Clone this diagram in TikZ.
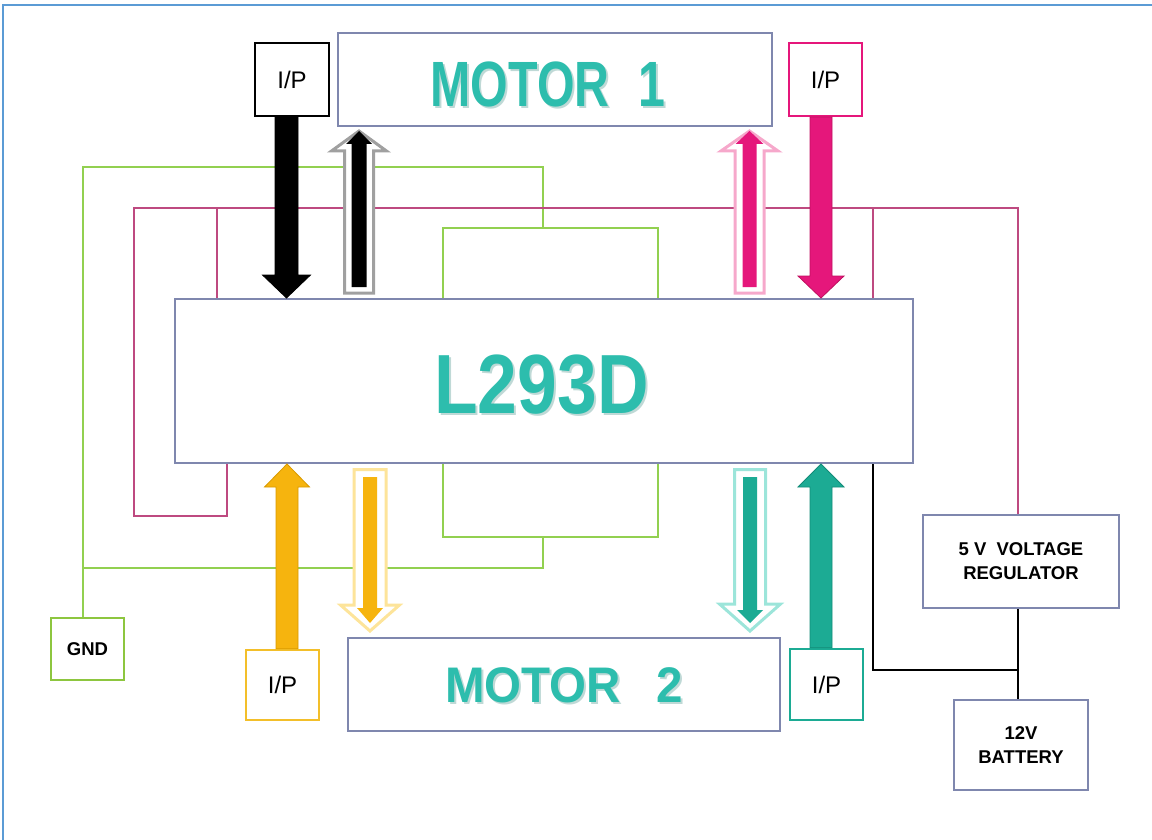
\documentclass[tikz,border=0pt]{standalone}
\usepackage{fontspec}
\setmainfont{Liberation Sans}
\usepackage{graphicx}
\usetikzlibrary{calc}
\definecolor{frameblue}{HTML}{5B9BD5}
\definecolor{boxline}{HTML}{7F87AE}
\definecolor{teal1}{HTML}{2DBDAD}
\definecolor{tealshadow}{HTML}{BFD9D6}
\definecolor{pinkA}{HTML}{E5177B}
\definecolor{pinkD}{HTML}{C0105F}
\definecolor{pinkL}{HTML}{F6A8CB}
\definecolor{orangeA}{HTML}{F6B40E}
\definecolor{orangeD}{HTML}{D99A00}
\definecolor{orangeL}{HTML}{FDE49A}
\definecolor{orangeB}{HTML}{F3BF2A}
\definecolor{tealA}{HTML}{1CAB94}
\definecolor{tealD}{HTML}{138C78}
\definecolor{tealL}{HTML}{9CE5DA}
\definecolor{grayL}{HTML}{A0A0A0}
\definecolor{greenW}{HTML}{92D050}
\definecolor{pinkW}{HTML}{BE4A80}
\definecolor{gndgreen}{HTML}{8DC63F}
\newcommand\varrow[6]{%
  \path[#1] let \p1=#2, \p2=#3, \n1={sign(\y2-\y1)} in
   ({\x1-#4},{\y1}) -- ({\x1-#4},{\y2-(\n1)*#6}) -- ({\x1-#5},{\y2-(\n1)*#6}) -- (\x1,\y2)
   -- ({\x1+#5},{\y2-(\n1)*#6}) -- ({\x1+#4},{\y2-(\n1)*#6}) -- ({\x1+#4},{\y1}) -- cycle;}
\tikzset{
  bigbox/.style={draw=boxline, line width=2pt, fill=white, rectangle, inner sep=0pt},
  ipbox/.style={draw=#1, line width=2pt, fill=white, rectangle, inner sep=0pt,
    font=\fontsize{24}{28}\selectfont, text depth=0pt},
  smalltext/.style={font=\bfseries\fontsize{18.5}{24}\selectfont, align=center},
  wire/.style={line width=1.2pt, line join=miter},
  hollow/.style={fill=white, draw=#1, line width=3pt, line join=miter},
  solidarr/.style 2 args={fill=#1, draw=#2, line width=0.8pt, line join=miter},
  bigtext/.style={text=teal1, inner sep=0pt, font=\bfseries\fontsize{#1}{#1}\selectfont},
  shadowtext/.style={text=tealshadow, inner sep=0pt, font=\bfseries\fontsize{#1}{#1}\selectfont}
}
\begin{document}
\begin{tikzpicture}[x=1pt, y=-1pt]
\useasboundingbox (0,0) rectangle (1152,840);
% frame
\draw[frameblue, line width=2pt] (3,840) -- (3,5) -- (1152,5);

% helper x positions
\coordinate (xA) at (359,0);
\coordinate (xB) at (749.5,0);
\coordinate (xC) at (370,0);
\coordinate (xD) at (750,0);
\coordinate (gx) at (83,0);
\coordinate (g1) at (443,0);
\coordinate (g2) at (658,0);
\coordinate (p1) at (217,0);
\coordinate (p2) at (227,0);
\coordinate (p3) at (873,0);
\coordinate (p4) at (1018,0);

% boxes
\node[bigbox, minimum width=434pt, minimum height=93pt] (m1) at (555,79.5) {};
\node[bigbox, minimum width=738pt, minimum height=164pt] (l293) at (544,381) {};
\node[bigbox, minimum width=432pt, minimum height=93pt] (m2) at (564,684.5) {};
\node[bigbox, smalltext, minimum width=196pt, minimum height=93pt] (reg) at (1021,561.5) {5 V\hspace{0.55em}VOLTAGE\\REGULATOR};
\node[bigbox, smalltext, minimum width=134pt, minimum height=90pt] (bat) at (1021,745) {12V\\BATTERY};
\node[draw=gndgreen, line width=2.5pt, fill=white, inner sep=0pt, minimum width=73pt, minimum height=62pt,
      font=\bfseries\fontsize{18.5}{22}\selectfont] (gnd) at (87.5,649) {GND};
\node[ipbox=black, minimum width=74pt, minimum height=73pt] (ipA) at (292,79.5) {I/P};
\node[ipbox=pinkA, minimum width=73pt, minimum height=73pt] (ipB) at (825.5,79.5) {I/P};
\node[ipbox=orangeB, line width=2.5pt, minimum width=73pt, minimum height=70pt] (ipC) at (282.5,685) {I/P};
\node[ipbox=tealA, line width=2.5pt, minimum width=73pt, minimum height=71pt] (ipD) at (826.5,684.5) {I/P};

% wires
\draw[wire, greenW] (gnd.north -| gx) -- (83,167) -- (543,167) -- (543,228);
\draw[wire, greenW] (l293.north -| g1) |- (658,228) -- (l293.north -| g2);
\draw[wire, greenW] (l293.south -| g1) |- (658,537) -- (l293.south -| g2);
\draw[wire, greenW] (543,537) -- (543,568) -- (83,568);
\draw[wire, pinkW] (l293.south -| p2) |- (134,516) -- (134,208) -- (1018,208) -- (reg.north -| p4);
\draw[wire, pinkW] (l293.north -| p1) -- (217,208);
\draw[wire, pinkW] (873,208) -- (l293.north -| p3);
\draw[wire, black] (l293.south -| p3) |- (1018,670);
\draw[wire, black] (reg.south -| p4) -- (bat.north -| p4);

% texts
\node[shadowtext=64] at (550,86) {\scalebox{0.755}[1]{MOTOR\hspace{0.6em}1}};
\node[bigtext=64] (t1) at (548,84) {\scalebox{0.755}[1]{MOTOR\hspace{0.6em}1}};
\node[shadowtext=50] at (566,687) {\scalebox{0.95}[1]{MOTOR\hspace{0.75em}2}};
\node[bigtext=50] (t2) at (564,685) {\scalebox{0.95}[1]{MOTOR\hspace{0.75em}2}};
\node[shadowtext=84] at (543.5,387) {\scalebox{0.85}[1]{L293D}};
\node[bigtext=84] (t3) at (541.5,385) {\scalebox{0.85}[1]{L293D}};

% solid arrows
\varrow{solidarr={black}{black}}{($(ipA.south)+(-5.5,0)$)}{($(ipA.south|-l293.north)+(-5.5,0)$)}{11.5pt}{24pt}{23pt}
\varrow{solidarr={pinkA}{pinkD}}{($(ipB.south)+(-4.5,0)$)}{($(ipB.south|-l293.north)+(-4.5,0)$)}{11pt}{23pt}{22pt}
\varrow{solidarr={orangeA}{orangeD}}{($(ipC.north)+(4.5,0)$)}{($(ipC.north|-l293.south)+(4.5,0)$)}{11pt}{22.5pt}{23pt}
\varrow{solidarr={tealA}{tealD}}{($(ipD.north)+(-5.5,0)$)}{($(ipD.north|-l293.south)+(-5.5,0)$)}{11pt}{23pt}{23pt}

% hollow arrows up (motor 1)
\varrow{hollow=grayL}{($(l293.north -| xA)+(0,-5)$)}{($(m1.south -| xA)+(0,4)$)}{14.5pt}{27.5pt}{20pt}
\varrow{fill=black}{($(l293.north -| xA)+(0,-11)$)}{($(m1.south -| xA)+(0,4)$)}{7.5pt}{13pt}{13pt}
\varrow{hollow=pinkL}{($(l293.north -| xB)+(0,-5)$)}{($(m1.south -| xB)+(0,4)$)}{14.5pt}{28.5pt}{20pt}
\varrow{fill=pinkA}{($(l293.north -| xB)+(0,-11)$)}{($(m1.south -| xB)+(0,4)$)}{7pt}{14pt}{13pt}

% hollow arrows down (motor 2)
\varrow{hollow=orangeL}{($(l293.south -| xC)+(0,5.5)$)}{($(m2.north -| xC)+(0,-6)$)}{16pt}{29.5pt}{26pt}
\varrow{fill=orangeA}{($(l293.south -| xC)+(0,13)$)}{($(m2.north -| xC)+(0,-14)$)}{7pt}{13pt}{15pt}
\varrow{hollow=tealL}{($(l293.south -| xD)+(0,5.5)$)}{($(m2.north -| xD)+(0,-6)$)}{15.5pt}{30.5pt}{27pt}
\varrow{fill=tealA}{($(l293.south -| xD)+(0,13)$)}{($(m2.north -| xD)+(0,-14)$)}{7pt}{13pt}{13pt}
\end{tikzpicture}
\end{document}
